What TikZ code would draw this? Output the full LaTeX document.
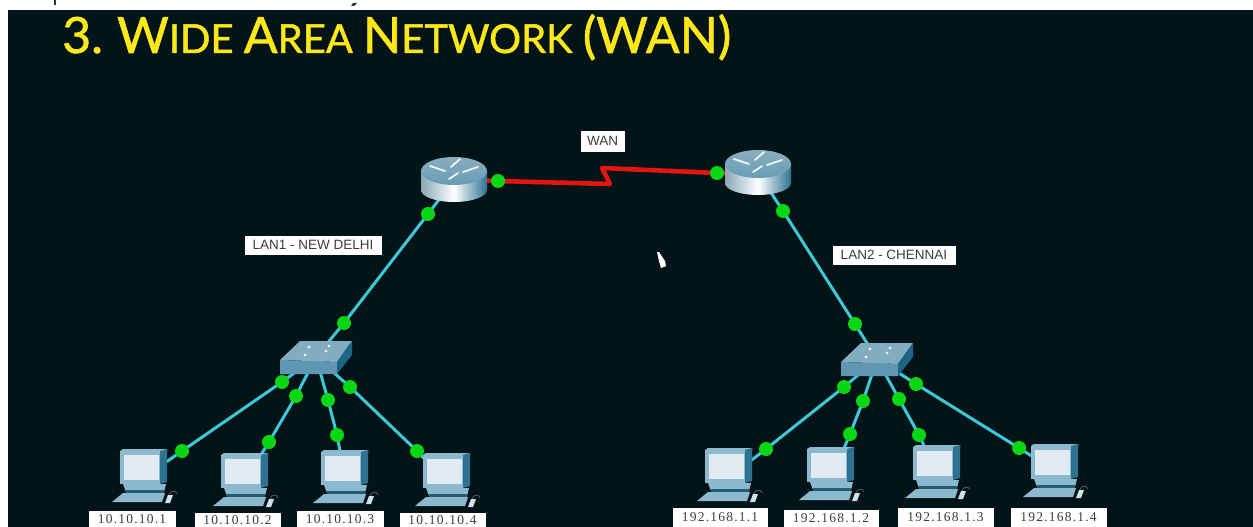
\documentclass[tikz,border=0pt]{standalone}
\usepackage{fontspec}
\setmainfont{Lato}
\newfontfamily\titlefont[FakeBold=1.2]{Lato}
\newfontfamily\ipfont[LetterSpace=9]{Liberation Serif}
\newfontfamily\lanfont{Liberation Sans}
\usetikzlibrary{shadings}
\definecolor{bgdark}{RGB}{3,20,24}
\definecolor{titley}{RGB}{255,232,24}
\definecolor{cablec}{RGB}{60,200,215}
\definecolor{dotg}{RGB}{10,215,20}
\definecolor{wanred}{RGB}{228,20,15}
\definecolor{labgray}{RGB}{60,60,65}
\definecolor{pclight}{RGB}{205,226,238}
\definecolor{pcmid}{RGB}{140,185,205}
\definecolor{pcdark}{RGB}{45,115,145}
\definecolor{pcscreen}{RGB}{225,236,242}
\definecolor{swtop}{RGB}{130,172,192}
\definecolor{swfront}{RGB}{95,150,178}
\definecolor{swside}{RGB}{30,100,135}
\tikzset{
  x=1pt,y=-1pt,
  cable/.style={draw=cablec,line width=3pt},
  wanline/.style={draw=wanred,line width=4.6pt,line join=round},
  dot/.style={circle,fill=dotg,draw=none,inner sep=0pt,minimum size=14pt},
  tag/.style={draw=white,fill=white,text=labgray,inner sep=0pt,minimum height=18pt},
  iptag/.style={tag,font=\fontsize{13.5}{14}\ipfont},
  lantag/.style={tag,font=\fontsize{13.5}{14}\lanfont},
  routerpic/.pic={
    \shade[left color=pcmid!70!gray,right color=pcdark,middle color=white]
      (-33,-9) -- (-33,10) arc[x radius=33,y radius=12,start angle=180,end angle=0] -- (33,-9) -- cycle;
    \shade[top color=pcmid!80!gray,bottom color=pcdark!40!pcmid]
      (0,-9) ellipse[x radius=33,y radius=14];
    \draw[white!85!pcmid,line width=1.8pt,line cap=round]
      (-24,-14) -- (-9,-9) (24,-13) -- (9,-8) (6,-21) -- (-3,-13) (-5,-1) -- (4,-7);
  },
  switchpic/.pic={
    \fill[swtop] (-36,3) -- (-16,-16) -- (36,-16) -- (21,5) -- cycle;
    \fill[swfront] (-36,3) -- (21,5) -- (21,17) -- (-36,17) -- cycle;
    \fill[swside] (21,5) -- (36,-16) -- (36,-2) -- (21,17) -- cycle;
    \fill[white!80!swtop] (-7,-10) circle[radius=1.6] (13,-11) circle[radius=1.6] (-11,-2) circle[radius=1.6] (10,-6) circle[radius=1.6];
  },
  pcpic/.pic={
    \fill[pcmid] (0,2) -- (3,0) -- (47,0) -- (47,3) -- cycle;
    \fill[pcmid] (0,2) rectangle (40,35);
    \fill[pcdark] (40,2) -- (47,0) -- (47,33) -- (40,35) -- cycle;
    \fill[pcscreen] (4,6) rectangle (39,31);
    \fill[pcmid] (3,35) -- (46,35) -- (44,43) -- (6,43) -- cycle;
    \fill[pcdark!80!black] (6,41) rectangle (44,43.5);
    \fill[pcmid] (-8,53) -- (3,44) -- (45,44) -- (42,53) -- cycle;
    \fill[pclight] (45,54) -- (48,46) -- (53,46) -- (50,54) -- cycle;
    \draw[gray!70!black,line width=.8pt] (49,46) .. controls (50,41) and (56,41) .. (57,45);
  }
}
\begin{document}
\begin{tikzpicture}
\useasboundingbox (0,0) rectangle (1253,527);
\fill[white] (0,0) rectangle (1253,527);
\fill[bgdark] (8,10) rectangle (1253,527);
% remnants of the line above the cut
\fill[black!80] (54,0) rectangle (56,5);
\fill[black!80] (353,3) -- (357,3) -- (354,6) -- (351,6) -- cycle;

\newcommand{\bigc}{\fontsize{50}{50}\selectfont}
\newcommand{\smallc}{\fontsize{40}{40}\selectfont}
\node[anchor=base west,inner sep=0pt,text=titley,font=\titlefont] (title) at (62,53)
  {\bigc 3.\hspace{-3pt} W\smallc IDE \bigc A\smallc REA \bigc N\smallc ETWORK \bigc (WAN)};

% device centres
\coordinate (r1) at (454,180);
\coordinate (r2) at (758,173);
\coordinate (s1) at (316,357);
\coordinate (s2) at (877,359);
\coordinate (p1) at (143,478);
\coordinate (p2) at (245,480);
\coordinate (p3) at (345,478);
\coordinate (p4) at (445,480);
\coordinate (q1) at (728,478);
\coordinate (q2) at (832,477);
\coordinate (q3) at (937,473);
\coordinate (q4) at (1054,470);
% link lights
\foreach \n/\x/\y in {a/498/181,b/717/173,c/428/214,d/344/323,e/783/211,f/855/324,
  g1/282/382,g2/296/396,g3/328/400,g4/350/387,h1/182/451,h2/269/442,h3/337/435,h4/417/451,
  i1/844/387,i2/863/401,i3/899/399,i4/916/384,j1/766/449,j2/850/434,j3/919/435,j4/1019/448}
  \coordinate (\n) at (\x,\y);
\coordinate (z1) at (610,184);
\coordinate (z2) at (602,168);

% connectors
\draw[wanline] (r1) -- (a) -- (z1) -- (z2) -- (b) -- (r2);
\draw[cable] (r1) -- (c) -- (d) -- (s1);
\draw[cable] (r2) -- (e) -- (f) -- (s2);
\draw[cable] (s1) -- (g1) -- (h1) -- (p1);
\draw[cable] (s1) -- (g2) -- (h2) -- (p2);
\draw[cable] (s1) -- (g3) -- (h3) -- (p3);
\draw[cable] (s1) -- (g4) -- (h4) -- (p4);
\draw[cable] (s2) -- (i1) -- (j1) -- (q1);
\draw[cable] (s2) -- (i2) -- (j2) -- (q2);
\draw[cable] (s2) -- (i3) -- (j3) -- (q3);
\draw[cable] (s2) -- (i4) -- (j4) -- (q4);

% devices
\pic at (r1) {routerpic};
\pic at (r2) {routerpic};
\pic at (s1) {switchpic};
\pic at (s2) {switchpic};
\pic at (120,449) {pcpic};
\pic at (221,453) {pcpic};
\pic at (321,450) {pcpic};
\pic at (423,453) {pcpic};
\pic at (705,448) {pcpic};
\pic at (807,447) {pcpic};
\pic at (913,445) {pcpic};
\pic at (1031,444) {pcpic};

% lights
\foreach \n in {a,b,c,d,e,f,g1,g2,g3,g4,h1,h2,h3,h4,i1,i2,i3,i4,j1,j2,j3,j4}
  \node[dot] (n\n) at (\n) {};

% labels
\node[lantag,minimum width=43pt,minimum height=20pt] (lwan) at (602.5,141) {WAN};
\node[lantag,minimum width=136pt] (llan1) at (313,245) {LAN1 - NEW DELHI};
\node[lantag,minimum width=122pt] (llan2) at (894,255) {LAN2 - CHENNAI};
\node[iptag,minimum width=86pt,minimum height=15.5pt] (t1) at (132,519) {10.10.10.1};
\node[iptag,minimum width=85pt,minimum height=13.5pt] (t2) at (237.5,520) {10.10.10.2};
\node[iptag,minimum width=86pt,minimum height=15.5pt] (t3) at (340,519) {10.10.10.3};
\node[iptag,minimum width=85pt,minimum height=13.5pt] (t4) at (442.5,520) {10.10.10.4};
\node[iptag,minimum width=94pt] (u1) at (720,517) {192.168.1.1};
\node[iptag,minimum width=94pt,minimum height=16pt] (u2) at (831,518.5) {192.168.1.2};
\node[iptag,minimum width=95pt] (u3) at (945.5,517) {192.168.1.3};
\node[iptag,minimum width=95pt] (u4) at (1058.5,517) {192.168.1.4};

% mouse pointer
\fill[white] (657,252) -- (659,252) -- (665,261) -- (666,266) -- (661,268) -- (659,261) -- cycle;
\end{tikzpicture}
\end{document}
